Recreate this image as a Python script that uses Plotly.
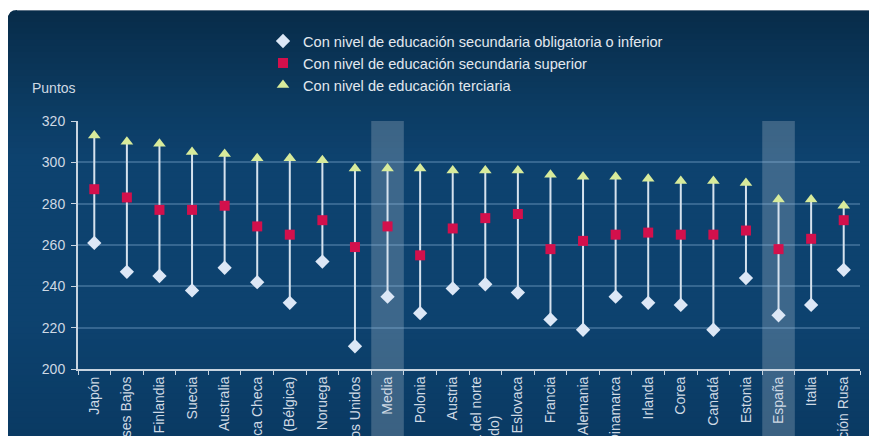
import plotly.graph_objects as go

# ---------------- data ----------------
categories = [
    "Japón", "Países Bajos", "Finlandia", "Suecia", "Australia",
    "República Checa", "Flandes (Bélgica)", "Noruega", "Estados Unidos",
    "Media", "Polonia", "Austria",
    "Inglaterra/Irlanda del norte<br>(Reino Unido)" + "\u00a0" * 10, "República Eslovaca",
    "Francia", "Alemania", "Dinamarca", "Irlanda", "Corea", "Canadá",
    "Estonia", "España", "Italia", "Federación Rusa",
]
secundaria_obligatoria = [261, 247, 245, 238, 249, 242, 232, 252, 211, 235, 227, 239,
                          241, 237, 224, 219, 235, 232, 231, 219, 244, 226, 231, 248]
secundaria_superior = [287, 283, 277, 277, 279, 269, 265, 272, 259, 269, 255, 268,
                       273, 275, 258, 262, 265, 266, 265, 265, 267, 258, 263, 272]
terciaria = [313, 310, 309, 305, 304, 302, 302, 301, 297, 297, 297, 296,
             296, 296, 294, 293, 293, 292, 291, 291, 290, 282, 282, 279]
highlighted = [9, 21]  # "Media", "España"
y_ticks = [200, 220, 240, 260, 280, 300, 320]

legend_names = [
    "Con nivel de educación secundaria obligatoria o inferior",
    "Con nivel de educación secundaria superior",
    "Con nivel de educación terciaria",
]

# ---------------- layout geometry ----------------
OFF = 8                      # page body margin
W, H = 869, 428              # figure size (fits the 877x436 window with the margin)
ML, MR, MT, MB = 70, 17, 113, 67
PW, PH = W - ML - MR, H - MT - MB


def px(xs):
    """screen x -> paper x"""
    return (xs - OFF - ML) / PW


def py(ys):
    """screen y -> paper y"""
    return (H - MB - (ys - OFF)) / PH


FONT = "Liberation Sans, Arial, sans-serif"
TXT = "#cfd9e4"

fig = go.Figure()

# connecting vertical lines (min to max)
lx, ly = [], []
for c, lo, hi in zip(categories, secundaria_obligatoria, terciaria):
    lx += [c, c, None]
    ly += [lo, hi, None]
fig.add_trace(go.Scatter(x=lx, y=ly, mode="lines", showlegend=False,
                         line=dict(color="#d6e2ee", width=2), hoverinfo="skip"))

fig.add_trace(go.Scatter(x=categories, y=secundaria_obligatoria, mode="markers",
                         name=legend_names[0],
                         marker=dict(symbol="diamond", size=11, color="#dce7f6")))
fig.add_trace(go.Scatter(x=categories, y=secundaria_superior, mode="markers",
                         name=legend_names[1],
                         marker=dict(symbol="square", size=10, color="#d3104c")))
fig.add_trace(go.Scatter(x=categories, y=terciaria, mode="markers",
                         name=legend_names[2],
                         marker=dict(symbol="triangle-up", size=11, color="#d8eb9b")))

shapes = []
# dark panel with rounded top-left corner, drawn as gradient bands
stops = [(10, (7, 43, 73)), (60, (10, 52, 86)), (110, (12, 60, 99)),
         (160, (13, 66, 111)), (320, (13, 66, 111)), (436, (10, 58, 99))]
x_left, r = 8, 9
bands = list(range(10, 436, 6)) + [437]
for i in range(len(bands) - 1):
    y0, y1 = bands[i], bands[i + 1]
    ym = (y0 + y1) / 2
    col = stops[-1][1]
    for j in range(len(stops) - 1):
        a, ca = stops[j]
        b, cb = stops[j + 1]
        if a <= ym <= b:
            t = (ym - a) / (b - a)
            col = tuple(round(ca[k] + (cb[k] - ca[k]) * t) for k in range(3))
            break
    color = "rgb(%d,%d,%d)" % col
    if i == 0:
        path = ("M %f,%f L %f,%f L %f,%f L %f,%f Q %f,%f %f,%f Z" % (
            px(x_left), py(y1), px(878), py(y1), px(878), py(y0),
            px(x_left + r), py(y0), px(x_left), py(y0), px(x_left), py(y0 + r)))
        shapes.append(dict(type="path", xref="paper", yref="paper", path=path,
                           fillcolor=color, line_width=0, layer="below"))
    else:
        shapes.append(dict(type="rect", xref="paper", yref="paper",
                           x0=px(x_left), x1=px(878), y0=py(y1), y1=py(y0) + 0.002,
                           fillcolor=color, line_width=0, layer="below"))
# thin light edge at the top of the panel
shapes.append(dict(type="line", xref="paper", yref="paper", x0=px(x_left + r), x1=px(878),
                   y0=py(10.5), y1=py(10.5), line=dict(color="#5d7286", width=1), layer="below"))

# highlighted columns
for i in highlighted:
    shapes.append(dict(type="rect", xref="x", yref="paper", x0=i - 0.5, x1=i + 0.5,
                       y0=py(437), y1=1, fillcolor="rgba(255,255,255,0.2)",
                       line_width=0, layer="between"))

annotations = [dict(text="Puntos", xref="paper", yref="paper", x=px(30), y=py(88),
                    xanchor="left", yanchor="middle", showarrow=False,
                    font=dict(family=FONT, size=14, color=TXT))]

fig.update_layout(
    width=W, height=H,
    margin=dict(l=ML, r=MR, t=MT, b=MB, autoexpand=False),
    paper_bgcolor="white", plot_bgcolor="rgba(0,0,0,0)",
    shapes=shapes, annotations=annotations,
    font=dict(family=FONT, size=14, color=TXT),
    legend=dict(x=px(263), y=py(25), xanchor="left", yanchor="top",
                bgcolor="rgba(0,0,0,0)", font=dict(family=FONT, size=14.6, color="#e2e8ef"),
                itemwidth=30, tracegroupgap=0),
    xaxis=dict(type="category", range=[-0.5, len(categories) - 0.5],
               tickangle=-90, tickson="boundaries", ticks="outside", ticklen=4,
               tickcolor="#c8d4e0", showline=True, linecolor="#c8d4e0", linewidth=2,
               showgrid=False, automargin=False, fixedrange=True,
               tickfont=dict(family=FONT, size=14, color=TXT)),
    yaxis=dict(range=[200, 320], tickvals=y_ticks, ticks="outside", ticklen=5,
               tickcolor="#c8d4e0", showline=True, linecolor="#c8d4e0", linewidth=2,
               showgrid=True, gridcolor="rgba(150,190,225,0.3)", gridwidth=1.5,
               zeroline=False, automargin=False, ticklabelstandoff=3,
               tickfont=dict(family=FONT, size=14, color=TXT)),
    showlegend=True,
)

fig.write_html("out.html")
